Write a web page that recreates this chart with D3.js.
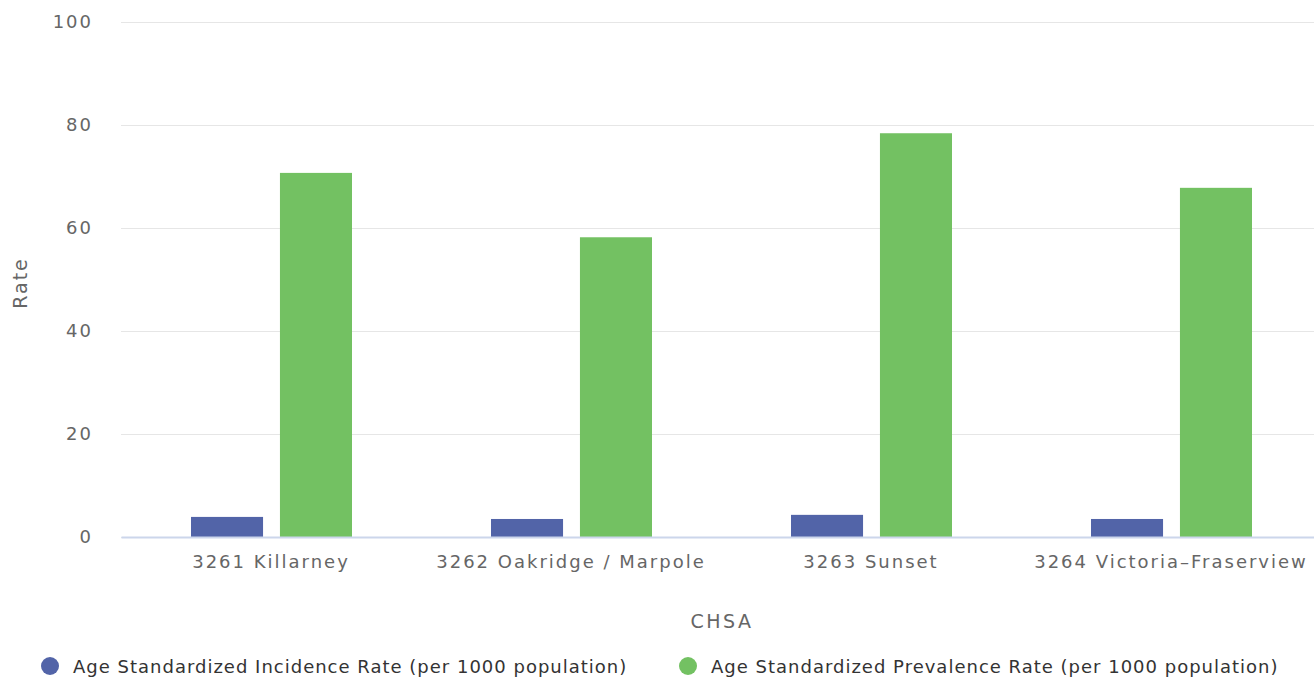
<!DOCTYPE html>
<html><head><meta charset="utf-8">
<script src="https://cdn.jsdelivr.net/npm/d3@7"></script>
<style>body{margin:0;background:#fff;} svg{display:block;} text{font-family:"DejaVu Sans",sans-serif;}</style>
</head><body><svg id="c" width="1314" height="679"></svg>
<script>
const categories = ["3261 Killarney", "3262 Oakridge / Marpole", "3263 Sunset", "3264 Victoria\u2013Fraserview"];
const incidence = [3.9, 3.5, 4.3, 3.5];
const prevalence = [70.7, 58.2, 78.4, 67.8];
const seriesNames = ["Age Standardized Incidence Rate (per 1000 population)", "Age Standardized Prevalence Rate (per 1000 population)"];
const seriesColors = ["#5264a8", "#73c162"];
const yTicks = [0, 20, 40, 60, 80, 100];

const FONT = '"DejaVu Sans", sans-serif';
const svg = d3.select("#c");
const L = 121, R = 1321, T = 22, B = 537;
const x = d3.scaleBand().domain(categories).range([L, R]).paddingInner(0).paddingOuter(0);
const y = d3.scaleLinear().domain([0, 100]).range([B, T]);
const inner = d3.scaleBand().domain([0, 1]).range([70, 231]).paddingInner(0.19).paddingOuter(0);

// grid
const yAxis = d3.axisLeft(y).tickValues(yTicks).tickSize(-(R - L));
const gy = svg.append("g").attr("transform", `translate(${L},0)`).call(yAxis);
gy.select(".domain").remove();
gy.attr("font-family", FONT);
gy.selectAll(".tick line").attr("stroke", "#e6e6e6").attr("stroke-width", 1);
gy.selectAll(".tick text").attr("fill", "#666").attr("font-size", 18).attr("letter-spacing", 2).attr("x", -28);

const data = [incidence, prevalence];
data.forEach((vals, si) => {
  svg.append("g").selectAll("rect").data(vals).join("rect")
    .attr("x", (d, i) => x(categories[i]) + inner(si))
    .attr("width", inner.bandwidth())
    .attr("y", d => y(d))
    .attr("height", d => y(0) - y(d))
    .attr("fill", seriesColors[si]);
});

// x axis
const xAxis = d3.axisBottom(x).tickSize(0).tickPadding(18);
const gx = svg.append("g").attr("transform", `translate(0,${B})`).call(xAxis);
gx.attr("font-family", FONT);
gx.select(".domain").attr("stroke", "#ccd6eb").attr("stroke-width", 2);
gx.selectAll(".tick text").attr("fill", "#666").attr("font-size", 18).attr("letter-spacing", 2);

svg.append("text").attr("x", 722).attr("y", 628).attr("text-anchor", "middle").attr("font-family", FONT)
  .attr("fill", "#666").attr("font-size", 19).attr("letter-spacing", 2.5).text("CHSA");
svg.append("text").attr("transform", "translate(27,283) rotate(-90)").attr("text-anchor", "middle").attr("font-family", FONT)
  .attr("fill", "#666").attr("font-size", 19).attr("letter-spacing", 2).text("Rate");

// legend
const lx = [50, 688];
seriesNames.forEach((n, i) => {
  const g = svg.append("g").attr("transform", `translate(${lx[i]},666)`);
  g.append("circle").attr("r", 9).attr("fill", seriesColors[i]);
  g.append("text").attr("x", 23).attr("y", 7).attr("fill", "#333").attr("font-family", FONT)
    .attr("font-size", 18).attr("letter-spacing", 1).text(n);
});
</script></body></html>
